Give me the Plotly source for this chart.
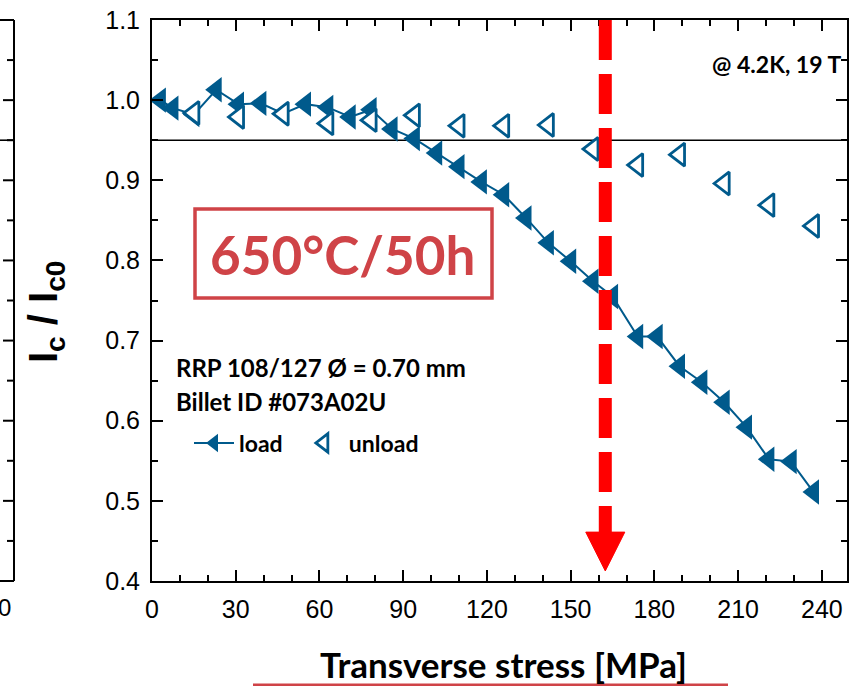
import plotly.graph_objects as go

# ---------------- data ----------------
load_x = [3, 7.5, 15, 23, 31, 39, 47, 55, 63, 71, 78.5, 86, 94, 102, 110, 118, 126, 134,
          142, 150, 158, 165, 174, 181, 189, 197, 205, 213, 221, 229, 237]
load_y = [1.000, 0.990, 0.982, 1.013, 0.995, 0.996, 0.983, 0.995, 0.991, 0.979, 0.988,
          0.964, 0.952, 0.934, 0.917, 0.898, 0.882, 0.853, 0.822, 0.799, 0.774, 0.755,
          0.705, 0.705, 0.668, 0.648, 0.623, 0.592, 0.552, 0.549, 0.511]
unload_x = [15, 31, 47, 63, 78.5, 94, 110, 126, 142, 158, 174, 189, 205, 221, 237]
unload_y = [0.984, 0.979, 0.983, 0.971, 0.975, 0.981, 0.968, 0.968, 0.969, 0.939, 0.919,
            0.932, 0.896, 0.869, 0.843]

x_ticks = [0, 30, 60, 90, 120, 150, 180, 210, 240]
y_ticks = [0.4, 0.5, 0.6, 0.7, 0.8, 0.9, 1.0, 1.1]
threshold = 0.95
arrow_x = 162.4

BLUE = "#005a8c"
RED = "#ff0000"
BOXRED = "#cf4347"

W, H = 851, 686
ML, MR, MT, MB = 152, 4, 20, 105
PW = W - ML - MR
PH = H - MT - MB
XMAX = 249
YMIN, YMAX = 0.4, 1.1


def px2paper_x(px):
    return (px - ML) / PW


def px2paper_y(py):
    return (H - MB - py) / PH


fig = go.Figure()

fig.add_trace(go.Scatter(
    x=load_x, y=load_y, mode="lines+markers", name="load&nbsp;&nbsp;",
    line=dict(color=BLUE, width=2),
    marker=dict(symbol="triangle-left", size=22, color=BLUE, line=dict(width=0)),
))
fig.add_trace(go.Scatter(
    x=unload_x, y=unload_y, mode="markers", name="unload",
    marker=dict(symbol="triangle-left", size=20, color="white",
                line=dict(color=BLUE, width=2.8)),
))

shapes = []
# horizontal reference line at 0.95
shapes.append(dict(type="line", xref="paper", x0=0, x1=1, yref="y", y0=threshold, y1=threshold,
                   line=dict(color="black", width=1.6), layer="below"))
# red dashed arrow
head_top = 0.461
head_tip = 0.4125
head_half = 7.0
shapes.append(dict(type="line", xref="x", yref="y", x0=arrow_x, x1=arrow_x, y0=YMAX, y1=0.455,
                   line=dict(color=RED, width=13, dash="40px,14px")))
shapes.append(dict(type="path", xref="x", yref="y",
                   path=f"M {arrow_x - head_half} {head_top} L {arrow_x + head_half} {head_top} "
                        f"L {arrow_x} {head_tip} Z",
                   fillcolor=RED, line=dict(color=RED, width=1)))
# box around 650°C/50h
shapes.append(dict(type="rect", xref="paper", yref="paper",
                   x0=px2paper_x(195), x1=px2paper_x(492),
                   y0=px2paper_y(298), y1=px2paper_y(209),
                   line=dict(color=BOXRED, width=3.5)))
# red underline below x title
shapes.append(dict(type="line", xref="paper", yref="paper",
                   x0=px2paper_x(253), x1=px2paper_x(728),
                   y0=px2paper_y(685), y1=px2paper_y(685),
                   line=dict(color=BOXRED, width=3)))

# partial neighbouring chart at the left edge
lx = px2paper_x(14)
for yv in [YMIN, YMAX]:
    yp = (yv - YMIN) / (YMAX - YMIN)
    shapes.append(dict(type="line", xref="paper", yref="paper", x0=px2paper_x(-2), x1=lx,
                       y0=yp, y1=yp, line=dict(color="black", width=2)))
shapes.append(dict(type="line", xref="paper", yref="paper", x0=lx, x1=lx, y0=0, y1=1,
                   line=dict(color="black", width=2)))
yp95 = (threshold - YMIN) / (YMAX - YMIN)
shapes.append(dict(type="line", xref="paper", yref="paper", x0=px2paper_x(-2), x1=lx,
                   y0=yp95, y1=yp95, line=dict(color="black", width=1.6)))
n_minor = int(round((YMAX - YMIN) / 0.05))
for i in range(1, n_minor):
    yv = YMIN + i * 0.05
    yp = (yv - YMIN) / (YMAX - YMIN)
    major = (i % 2 == 0)
    shapes.append(dict(type="line", xref="paper", yref="paper",
                       x0=px2paper_x(3 if major else 7), x1=lx, y0=yp, y1=yp,
                       line=dict(color="black", width=2)))

annotations = [
    dict(text="<b>650°C/50h</b>", xref="paper", yref="paper",
         x=px2paper_x(342), y=px2paper_y(254), xanchor="center", yanchor="middle",
         showarrow=False, font=dict(family="Lato", size=53, color=BOXRED)),
    dict(text="<b>@ 4.2K, 19 T</b>", xref="paper", yref="paper",
         x=px2paper_x(710), y=px2paper_y(64), xanchor="left", yanchor="middle",
         showarrow=False, font=dict(family="Lato", size=23, color="black")),
    dict(text="<b>RRP 108/127 Ø = 0.70 mm</b>", xref="paper", yref="paper",
         x=px2paper_x(174), y=px2paper_y(367), xanchor="left", yanchor="middle",
         showarrow=False, font=dict(family="Lato", size=24, color="black")),
    dict(text="<b>Billet ID #073A02U</b>", xref="paper", yref="paper",
         x=px2paper_x(174), y=px2paper_y(401), xanchor="left", yanchor="middle",
         showarrow=False, font=dict(family="Lato", size=24, color="black")),
    dict(text="<b>Transverse stress [MPa]</b>", xref="paper", yref="paper",
         x=px2paper_x(503), y=px2paper_y(664), xanchor="center", yanchor="middle",
         showarrow=False, font=dict(family="Lato", size=35, color="black")),
    dict(text="<b>I<sub>c</sub> / I<sub>c0</sub></b>", xref="paper", yref="paper",
         x=px2paper_x(46), y=px2paper_y(312), xanchor="center", yanchor="middle", textangle=-90,
         showarrow=False, font=dict(family="Liberation Sans", size=40, color="black")),
    dict(text="0", xref="paper", yref="paper",
         x=px2paper_x(4), y=px2paper_y(607), xanchor="center", yanchor="middle",
         showarrow=False, font=dict(family="Liberation Sans", size=24, color="black")),
]

fig.update_layout(
    width=W, height=H,
    margin=dict(l=ML, r=MR, t=MT, b=MB, autoexpand=False),
    paper_bgcolor="white", plot_bgcolor="white",
    shapes=shapes, annotations=annotations,
    showlegend=True,
    legend=dict(orientation="h", x=px2paper_x(189), y=px2paper_y(443),
                xanchor="left", yanchor="middle", bgcolor="rgba(0,0,0,0)",
                font=dict(family="Lato", size=23, color="black", weight="bold"),
                itemwidth=40, tracegroupgap=0),
    xaxis=dict(range=[0, XMAX], tickvals=x_ticks, ticks="inside", ticklen=11, tickwidth=2,
               tickcolor="black", showline=True, linecolor="black", linewidth=2,
               mirror="allticks", showgrid=False, zeroline=False,
               tickfont=dict(family="Liberation Sans", size=25, color="black"),
               ticklabelstandoff=5,
               minor=dict(dtick=10, ticks="inside", ticklen=6, tickwidth=2, tickcolor="black",
                          showgrid=False)),
    yaxis=dict(range=[YMIN, YMAX], tickvals=y_ticks, tickformat=".1f", ticks="inside",
               ticklen=11, tickwidth=2, tickcolor="black", showline=True, linecolor="black",
               linewidth=2, mirror="allticks", showgrid=False, zeroline=False,
               tickfont=dict(family="Liberation Sans", size=25, color="black"),
               ticklabelstandoff=5,
               minor=dict(dtick=0.05, tick0=0.4, ticks="inside", ticklen=6, tickwidth=2,
                          tickcolor="black", showgrid=False)),
)

fig.write_html("out.html")
